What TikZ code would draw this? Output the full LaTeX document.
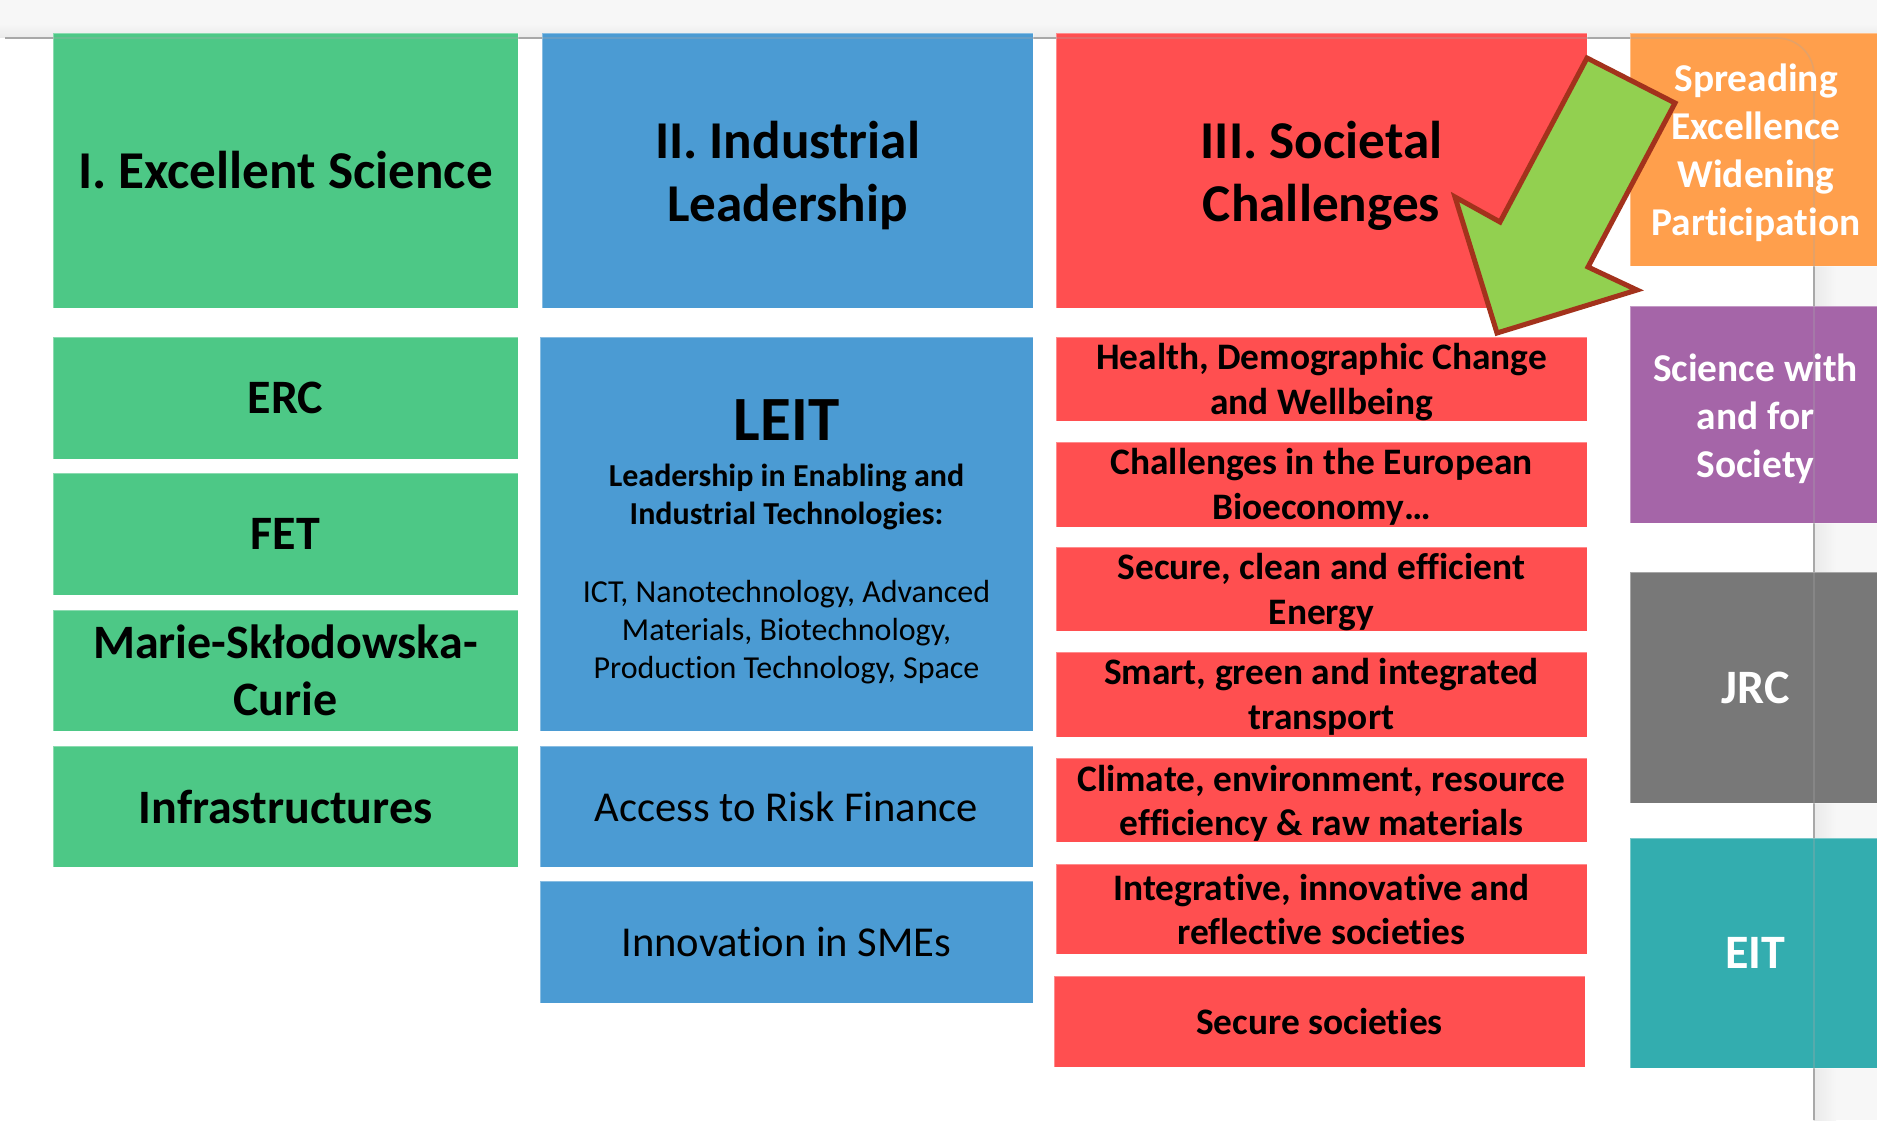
\documentclass[tikz,border=0pt]{standalone}
\usepackage{fontspec}
\setmainfont{Carlito}[Ligatures=NoCommon]
\definecolor{cgreen}{HTML}{4DC886}
\definecolor{cblue}{HTML}{4B9BD3}
\definecolor{cred}{HTML}{FF4F50}
\definecolor{corange}{HTML}{FF9F4C}
\definecolor{cpurple}{HTML}{A565A8}
\definecolor{cgray}{HTML}{787878}
\definecolor{cteal}{HTML}{33ADAF}
\definecolor{arrowfill}{HTML}{92D050}
\definecolor{arrowedge}{HTML}{A3321C}
\definecolor{bggray}{HTML}{F7F7F7}
\definecolor{shadegray}{HTML}{EAEAEA}
\definecolor{linegray}{HTML}{A8A8A8}
\begin{document}
\begin{tikzpicture}[x=1pt,y=-1pt,
  box/.style={anchor=north west, inner sep=0pt, outer sep=0pt, draw=white,
    draw opacity=0.35, line width=0.8pt},
  txt/.style={inner sep=0pt, outer sep=0pt, align=center, text=black},
  hfont/.style={font=\fontsize{53.2}{63}\selectfont\bfseries},
  gfont/.style={font=\fontsize{48}{57}\selectfont\bfseries},
  rfont/.style={font=\fontsize{37.4}{44.5}\selectfont\bfseries},
  bfont/.style={font=\fontsize{42.6}{51}\selectfont},
  sfont/.style={font=\fontsize{39.4}{48}\selectfont\bfseries, text=white},
  bigfont/.style={font=\fontsize{48}{58}\selectfont\bfseries, text=white},
  pageline/.style={draw=linegray, line width=1.6pt}
]
\useasboundingbox (0,0) rectangle (1877,1120);
% background and page
\fill[bggray] (0,0) rectangle (1877,1120);
\shade[top color=bggray, bottom color=shadegray] (0,24) rectangle (1877,38);
\shade[left color=shadegray, right color=bggray] (1814,60) rectangle (1836,1120);
\fill[white] (0,38) -- (1777,38) .. controls (1797.4,38) and (1814,54.6) .. (1814,75) -- (1814,1120) -- (0,1120) -- cycle;
\draw[pageline] (5,38) -- (1777,38) .. controls (1797.4,38) and (1814,54.6) .. (1814,75) -- (1814,1120);

% column I
\node[box, fill=cgreen, minimum width=465pt, minimum height=275pt] (gh) at (53,33) {};
\node[txt, hfont] (ght) at (gh.center) {I. Excellent Science};
\node[box, fill=cgreen, minimum width=465pt, minimum height=122pt] (erc) at (53,337) {};
\node[txt, gfont] (erct) at (erc.center) {ERC};
\node[box, fill=cgreen, minimum width=465pt, minimum height=122pt] (fet) at (53,473) {};
\node[txt, gfont] (fett) at (fet.center) {FET};
\node[box, fill=cgreen, minimum width=465pt, minimum height=121pt] (msc) at (53,610) {};
\node[txt, gfont] (msct) at (msc.center) {Marie-Skłodowska-\\Curie};
\node[box, fill=cgreen, minimum width=465pt, minimum height=121pt] (inf) at (53,746) {};
\node[txt, gfont] (inft) at (inf.center) {Infrastructures};

% column II
\node[box, fill=cblue, minimum width=491pt, minimum height=275pt] (bh) at (542,33) {};
\node[txt, hfont, yshift=-5pt] (bht) at (bh.center) {II. Industrial\\Leadership};
\node[box, fill=cblue, minimum width=493pt, minimum height=394pt] (leit) at (540,337) {};
\node[txt, font=\fontsize{63}{70}\selectfont\bfseries] (leitT) at (786.5,420) {LEIT};
\node[txt, font=\fontsize{32}{38}\selectfont\bfseries] (leitS) at (786.5,497) {Leadership in Enabling and\\Industrial Technologies:};
\node[txt, font=\fontsize{32}{38}\selectfont] (leitL) at (786.5,632) {ICT, Nanotechnology, Advanced\\Materials, Biotechnology,\\Production Technology, Space};
\node[box, fill=cblue, minimum width=493pt, minimum height=121pt] (acc) at (540,746) {};
\node[txt, bfont] (acct) at (acc.center) {Access to Risk Finance};
\node[box, fill=cblue, minimum width=493pt, minimum height=122pt] (sme) at (540,881) {};
\node[txt, bfont] (smet) at (sme.center) {Innovation in SMEs};

% column III
\node[box, fill=cred, minimum width=531pt, minimum height=275pt] (rh) at (1056,33) {};
\node[txt, hfont, yshift=-5pt] (rht) at (rh.center) {III. Societal\\Challenges};
\node[box, fill=cred, minimum width=531pt, minimum height=84pt] (r1) at (1056,337) {};
\node[txt, rfont, yshift=-3pt] (r1t) at (r1.center) {Health, Demographic Change\\and Wellbeing};
\node[box, fill=cred, minimum width=531pt, minimum height=85pt] (r2) at (1056,442) {};
\node[txt, rfont, yshift=-2.5pt] (r2t) at (r2.center) {Challenges in the European\\Bioeconomy…};
\node[box, fill=cred, minimum width=531pt, minimum height=84pt] (r3) at (1056,547) {};
\node[txt, rfont, yshift=-3pt] (r3t) at (r3.center) {Secure, clean and efficient\\Energy};
\node[box, fill=cred, minimum width=531pt, minimum height=85pt] (r4) at (1056,652) {};
\node[txt, rfont, yshift=-2.5pt] (r4t) at (r4.center) {Smart, green and integrated\\transport};
\node[box, fill=cred, minimum width=531pt, minimum height=84pt] (r5) at (1056,758) {};
\node[txt, rfont, yshift=-3.5pt] (r5t) at (r5.center) {Climate, environment, resource\\efficiency \& raw materials};
\node[box, fill=cred, minimum width=531pt, minimum height=90pt] (r6) at (1056,864) {};
\node[txt, rfont, yshift=-0.5pt] (r6t) at (r6.center) {Integrative, innovative and\\reflective societies};
\node[box, fill=cred, minimum width=531pt, minimum height=91pt] (r7) at (1054,976) {};
\node[txt, rfont] (r7t) at (r7.center) {Secure societies};

% right column
\node[box, fill=corange, minimum width=247pt, minimum height=233pt] (spr) at (1630,33) {};
\node[box, fill=cpurple, minimum width=247pt, minimum height=217pt] (swf) at (1630,306) {};
\node[box, fill=cgray, minimum width=247pt, minimum height=231pt] (jrc) at (1630,572) {};
\node[box, fill=cteal, minimum width=247pt, minimum height=230pt] (eit) at (1630,838) {};

% page line showing through
\draw[pageline, draw opacity=0.3] (5,38) -- (1777,38) .. controls (1797.4,38) and (1814,54.6) .. (1814,75) -- (1814,1120);

\node[txt, sfont, xshift=2.5pt, yshift=-3.5pt] (sprt) at (spr.center) {Spreading\\Excellence\\Widening\\Participation};
\node[txt, sfont, xshift=2pt, yshift=-4.5pt] (swft) at (swf.center) {Science with\\and for\\Society};
\node[txt, bigfont, xshift=2pt] (jrct) at (jrc.center) {JRC};
\node[txt, bigfont, xshift=2pt] (eitt) at (eit.center) {EIT};

% green block arrow
\draw[fill=arrowfill, draw=arrowedge, line width=5pt, line join=miter]
  (1587,58) -- (1675,103) -- (1588,267) -- (1637,290) -- (1497,333) -- (1455,197) -- (1500,222) -- cycle;
\end{tikzpicture}
\end{document}
